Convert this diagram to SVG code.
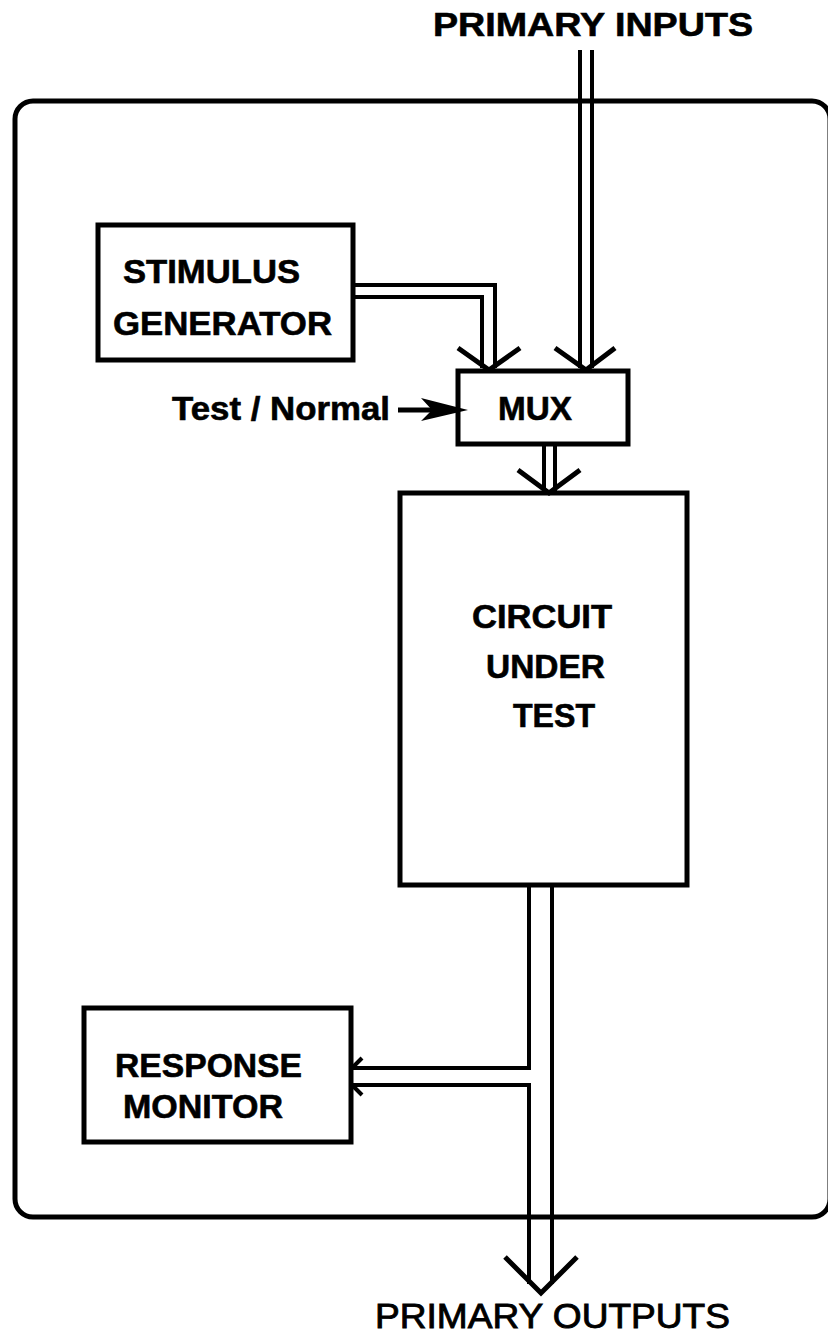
<svg xmlns="http://www.w3.org/2000/svg" width="828" height="1336" viewBox="0 0 828 1336">
<style>
.box{fill:none;stroke:#000;stroke-width:5}
.bus{fill:none;stroke:#000;stroke-width:4}
.chev{fill:none;stroke:#000;stroke-width:5;stroke-linecap:butt;stroke-linejoin:miter}
.lbl{font-family:"Liberation Sans",Arial,Helvetica,sans-serif;font-weight:bold;font-size:33px;fill:#000;stroke:#000;stroke-width:0.6}
.out{font-family:"Liberation Sans",Arial,Helvetica,sans-serif;font-weight:normal;font-size:35px;fill:#000;stroke:#000;stroke-width:0.9}
</style>
<rect width="828" height="1336" fill="#fff"/>
<g id="chip">
<rect x="15" y="101" width="815" height="1116" rx="18" ry="18" class="box"/>
</g>
<g id="primary-inputs">
<text class="lbl" x="433" y="36" textLength="320" lengthAdjust="spacingAndGlyphs">PRIMARY INPUTS</text>
</g>
<g id="stimulus-generator">
<rect x="98" y="225" width="255" height="135" class="box"/>
<text class="lbl" x="123" y="283" textLength="177" lengthAdjust="spacingAndGlyphs">STIMULUS</text>
<text class="lbl" x="113" y="335" textLength="219" lengthAdjust="spacingAndGlyphs">GENERATOR</text>
</g>
<g id="mux">
<rect x="458" y="371" width="170" height="73" class="box"/>
<text class="lbl" x="498" y="420" textLength="74" lengthAdjust="spacingAndGlyphs">MUX</text>
</g>
<g id="test-normal">
<text class="lbl" x="172" y="420" textLength="218" lengthAdjust="spacingAndGlyphs">Test / Normal</text>
</g>
<g id="circuit-under-test">
<rect x="400" y="493" width="287" height="392" class="box"/>
<text class="lbl" x="472" y="628" textLength="140" lengthAdjust="spacingAndGlyphs">CIRCUIT</text>
<text class="lbl" x="486" y="678" textLength="119" lengthAdjust="spacingAndGlyphs">UNDER</text>
<text class="lbl" x="513" y="727" textLength="82" lengthAdjust="spacingAndGlyphs">TEST</text>
</g>
<g id="response-monitor">
<rect x="84" y="1008" width="267" height="134" class="box"/>
<text class="lbl" x="115" y="1077" textLength="187" lengthAdjust="spacingAndGlyphs">RESPONSE</text>
<text class="lbl" x="123" y="1118" textLength="160" lengthAdjust="spacingAndGlyphs">MONITOR</text>
</g>
<g id="primary-outputs">
<text class="out" x="375" y="1328" textLength="355" lengthAdjust="spacingAndGlyphs">PRIMARY OUTPUTS</text>
</g>
<g id="connectors">
<line x1="580" y1="50" x2="580" y2="368" class="bus"/>
<line x1="592" y1="50" x2="592" y2="368" class="bus"/>
<polyline points="555,348 586,370 615,348" class="chev"/>
<polyline points="353,285 495,285 495,368" class="bus"/>
<polyline points="353,297 482,297 482,368" class="bus"/>
<polyline points="458,348 489,370 520,348" class="chev"/>
<line x1="398" y1="410" x2="440" y2="410" class="chev"/>
<polygon points="468,410 421,398 432,410 421,421" fill="#000"/>
<line x1="544" y1="444" x2="544" y2="491" class="bus"/>
<line x1="555" y1="444" x2="555" y2="491" class="bus"/>
<polyline points="518,470 549,493 580,470" class="chev"/>
<polyline points="529,885 529,1068 351,1068" class="bus"/>
<polyline points="351,1085 529,1085 529,1284" class="bus"/>
<line x1="552" y1="885" x2="552" y2="1284" class="bus"/>
<polyline points="505,1257 541,1293 577,1257" class="chev"/>
<line x1="352" y1="1068" x2="362" y2="1058" class="bus"/>
<line x1="352" y1="1085" x2="362" y2="1095" class="bus"/>
</g>
</svg>
